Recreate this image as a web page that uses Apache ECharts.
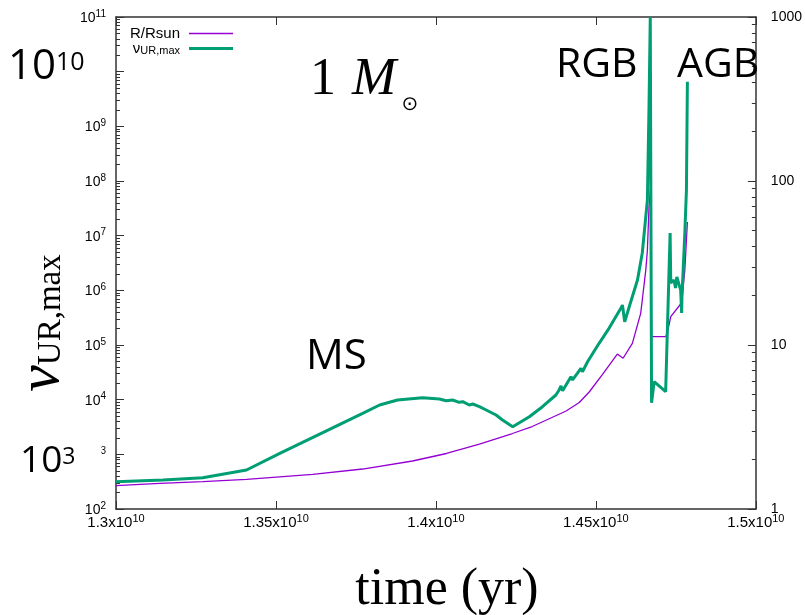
<!DOCTYPE html>
<html>
<head>
<meta charset="utf-8">
<script src="https://cdn.jsdelivr.net/npm/echarts@6/dist/echarts.min.js"></script>
<style>
html, body { margin: 0; padding: 0; background: #fff; }
#chart { width: 805px; height: 615px; }
</style>
</head>
<body>
<div id="chart"></div>
<script>
// Evolution of a 1 solar-mass star: nu_UR,max (left, log) and R/Rsun (right, log) against age.

// nu_UR,max track
const timeNu = [
  1.3000e10, 1.3147e10, 1.3271e10, 1.3408e10, 1.3512e10, 1.3771e10, 1.3824e10, 1.3880e10,
  1.3958e10, 1.4011e10, 1.4032e10, 1.4052e10, 1.4073e10, 1.4084e10, 1.4104e10, 1.4115e10,
  1.4136e10, 1.4157e10, 1.4188e10, 1.4208e10, 1.4240e10, 1.4292e10, 1.4333e10, 1.4375e10,
  1.4385e10, 1.4391e10, 1.4396e10, 1.4416e10, 1.4422e10, 1.4427e10, 1.4442e10, 1.4453e10,
  1.4458e10, 1.4474e10, 1.4479e10, 1.4510e10, 1.4541e10, 1.4578e10, 1.4583e10, 1.4590e10,
  1.4609e10, 1.4630e10, 1.4645e10, 1.4661e10, 1.4666e10, 1.4670e10, 1.4674e10, 1.4682e10,
  1.4718e10, 1.4732e10, 1.4734e10, 1.4744e10, 1.4749e10, 1.4753e10, 1.4765e10, 1.4768e10,
  1.4769e10, 1.4778e10, 1.4783e10, 1.4786e10
];
const nuMax = [
  316, 339, 374, 517, 1044, 5630, 7980, 9860,
  10860, 10280, 9570, 9860, 8950, 9180, 7980, 8330,
  7430, 6470, 5240, 4250, 3200, 4880, 7430, 12170,
  15030, 17780, 14590, 22900, 26330, 22900, 30360, 37500,
  32460, 49450, 46240, 107400, 201900, 469000, 538000, 266700,
  619000, 1.545e6, 4.82e6, 4.49e7, 2.25e9, 1e11, 8800, 21300,
  13990, 1.12e7, 1.36e6, 1.545e6, 1.10e6, 1.75e6, 1.01e6, 3.85e5,
  7.55e5, 1.12e7, 6.84e7, 6.55e9
];

// stellar radius track
const timeRadius = [
  1.3000e10, 1.3137e10, 1.3271e10, 1.3408e10, 1.3615e10, 1.3771e10, 1.3927e10, 1.4033e10,
  1.4136e10, 1.4239e10, 1.4301e10, 1.4407e10, 1.4448e10, 1.4479e10, 1.4519e10, 1.4567e10,
  1.4585e10, 1.4614e10, 1.4640e10, 1.4645e10, 1.4656e10, 1.4661e10, 1.4666e10, 1.4671e10,
  1.4674e10, 1.4718e10, 1.4723e10, 1.4734e10, 1.4765e10, 1.4770e10, 1.4778e10, 1.4786e10
];
const radius = [
  1.387, 1.431, 1.467, 1.517, 1.624, 1.753, 1.962, 2.180,
  2.490, 2.886, 3.184, 3.960, 4.461, 5.168, 6.56, 8.81,
  8.30, 10.24, 15.6, 18.8, 28.7, 37.9, 69.4, 91.9,
  11.24, 11.24, 11.78, 14.88, 17.78, 19.7, 28.7, 56.2
];

// axis ticks
const xTicks = [1.3e10, 1.35e10, 1.4e10, 1.45e10, 1.5e10];
const xTickMantissa = ['1.3', '1.35', '1.4', '1.45', '1.5'];
const leftTicks = [1e2, 1e3, 1e4, 1e5, 1e6, 1e7, 1e8, 1e9, 1e10, 1e11];
const leftTickExponents = ['2', '3', '4', '5', '6', '7', '8', '9', '10', '11'];
const rightTicks = [1, 10, 100, 1000];
const rightTickLabels = ['1', '10', '100', '1000'];

const seriesRadius = 'R/Rsun';
const seriesNu = 'ν_UR,max';

function minorLogTicks(lo, hi) {
  const out = [];
  for (let e = lo; e < hi; e++) {
    for (let m = 2; m <= 9; m++) out.push(m * Math.pow(10, e));
  }
  return out;
}

const AXIS_COLOR = '#333';
const SANS = '"Liberation Sans", Arial, sans-serif';
const SERIF = '"Liberation Serif", "Times New Roman", serif';
const CALLOUT = '"Open Sans", "Noto Sans", sans-serif';
const PURPLE = '#9400d3';
const GREEN = '#009e73';

function supRich(size, supSize) {
  return {
    b: { fontFamily: SANS, fontSize: size, lineHeight: size + 2, color: '#000', verticalAlign: 'bottom' },
    s: { fontFamily: SANS, fontSize: supSize, lineHeight: supSize, color: '#000', verticalAlign: 'top', padding: [0, 0, 8, 0] }
  };
}

const chart = echarts.init(document.getElementById('chart'), null, { renderer: 'canvas' });

const option = {
  animation: false,
  backgroundColor: '#fff',
  grid: { left: 116, right: 48, top: 17, bottom: 106, containLabel: false },
  legend: {
    left: 125, top: 21, orient: 'vertical', align: 'right',
    itemWidth: 44, itemHeight: 12, itemGap: -1, selectedMode: false,
    data: [
      { name: seriesRadius, icon: 'path://M0,0H44V1.4H0Z' },
      { name: seriesNu, icon: 'path://M0,0H44V3H0Z' }
    ],
    formatter: function (name) {
      return name === seriesNu ? '{nu|ν}{sub|UR,max}' : name;
    },
    textStyle: {
      fontFamily: SANS, fontSize: 15, color: '#000', padding: [0, 4, 0, 0],
      rich: {
        nu: { fontFamily: SANS, fontSize: 15, lineHeight: 15, verticalAlign: 'top', color: '#000' },
        sub: { fontFamily: SANS, fontSize: 11, lineHeight: 11, padding: [5, 0, 0, 0], verticalAlign: 'bottom', color: '#000' }
      }
    }
  },
  xAxis: [
    {
      type: 'value', position: 'bottom', min: 1.3e10, max: 1.5e10, interval: 5e8,
      axisLine: { show: true, onZero: false, lineStyle: { color: AXIS_COLOR, width: 1.5 } },
      axisTick: { show: true, inside: true, length: 8, customValues: xTicks, lineStyle: { color: AXIS_COLOR } },
      axisLabel: {
        margin: 4, customValues: xTicks,
        formatter: function (v) {
          const i = xTicks.findIndex(function (t) { return Math.abs(t - v) < 1e6; });
          return '{b|' + xTickMantissa[i] + 'x10}{s|10}';
        },
        rich: supRich(15, 11)
      },
      splitLine: { show: false }
    },
    {
      type: 'value', position: 'top', min: 1.3e10, max: 1.5e10, interval: 5e8,
      axisLine: { show: true, onZero: false, lineStyle: { color: AXIS_COLOR, width: 1.5 } },
      axisTick: { show: true, inside: true, length: 8, lineStyle: { color: AXIS_COLOR } },
      axisLabel: { show: false },
      splitLine: { show: false }
    }
  ],
  yAxis: [
    {
      type: 'log', logBase: 10, position: 'left', min: 1e2, max: 1e11,
      axisLine: { show: true, onZero: false, lineStyle: { color: AXIS_COLOR, width: 1.5 } },
      axisTick: { show: true, inside: true, length: 8, customValues: leftTicks, lineStyle: { color: AXIS_COLOR } },
      axisLabel: {
        margin: 10, customValues: leftTicks,
        formatter: function (v) {
          const i = leftTicks.findIndex(function (t) { return Math.abs(Math.log10(t) - Math.log10(v)) < 1e-6; });
          return '{b|10}{s|' + leftTickExponents[i] + '}';
        },
        rich: supRich(14, 10)
      },
      splitLine: { show: false }
    },
    {
      type: 'log', logBase: 10, position: 'right', min: 1, max: 1000,
      axisLine: { show: true, onZero: false, lineStyle: { color: AXIS_COLOR, width: 1.5 } },
      axisTick: { show: true, inside: true, length: 8, customValues: rightTicks, lineStyle: { color: AXIS_COLOR } },
      axisLabel: {
        margin: 15, customValues: rightTicks, fontFamily: SANS, fontSize: 14, color: '#000',
        formatter: function (v) {
          const i = rightTicks.findIndex(function (t) { return Math.abs(Math.log10(t) - Math.log10(v)) < 1e-6; });
          return rightTickLabels[i];
        }
      },
      splitLine: { show: false }
    },
    {
      // minor ticks, left
      type: 'log', logBase: 10, position: 'left', min: 1e2, max: 1e11,
      axisLine: { show: false },
      axisTick: { show: true, inside: true, length: 4, customValues: minorLogTicks(2, 11), lineStyle: { color: AXIS_COLOR } },
      axisLabel: { show: false },
      splitLine: { show: false }
    },
    {
      // minor ticks, right
      type: 'log', logBase: 10, position: 'right', min: 1, max: 1000,
      axisLine: { show: false },
      axisTick: { show: true, inside: true, length: 4, customValues: minorLogTicks(0, 3), lineStyle: { color: AXIS_COLOR } },
      axisLabel: { show: false },
      splitLine: { show: false }
    }
  ],
  series: [
    {
      name: seriesRadius, type: 'line', xAxisIndex: 0, yAxisIndex: 1,
      data: timeRadius.map(function (t, i) { return [t, radius[i]]; }),
      showSymbol: false, symbol: 'none',
      lineStyle: { color: PURPLE, width: 1.3 },
      itemStyle: { color: PURPLE }
    },
    {
      name: seriesNu, type: 'line', xAxisIndex: 0, yAxisIndex: 0,
      data: timeNu.map(function (t, i) { return [t, nuMax[i]]; }),
      showSymbol: false, symbol: 'none',
      lineStyle: { color: GREEN, width: 3 },
      itemStyle: { color: GREEN }
    }
  ],
  graphic: [
    {
      type: 'text', x: 8, y: 40, z: 100,
      style: {
        text: '{b|10}{s|10}', backgroundColor: '#fff', padding: [0, 22, 0, 0],
        rich: {
          b: { fontFamily: CALLOUT, fontSize: 42, lineHeight: 48, verticalAlign: 'bottom', fill: '#000' },
          s: { fontFamily: CALLOUT, fontSize: 25, lineHeight: 28, padding: [10, 0, 0, 0], verticalAlign: 'top', fill: '#000' }
        }
      }
    },
    {
      type: 'text', x: 20, y: 438, z: 100,
      style: {
        text: '{b|10}{s|3}', backgroundColor: '#fff', padding: [0, 26, 0, 0],
        rich: {
          b: { fontFamily: CALLOUT, fontSize: 37, lineHeight: 42, verticalAlign: 'bottom', fill: '#000' },
          s: { fontFamily: CALLOUT, fontSize: 23, lineHeight: 26, padding: [8, 0, 0, 0], verticalAlign: 'top', fill: '#000' }
        }
      }
    },
    {
      type: 'text', x: 310, y: 54, z: 100,
      style: {
        text: '{n|1 }{m|M}',
        rich: {
          n: { fontFamily: SERIF, fontSize: 52, lineHeight: 56, verticalAlign: 'top', fill: '#000' },
          m: { fontFamily: SERIF, fontStyle: 'italic', fontSize: 53, lineHeight: 56, padding: [0, 0, 0, 3], verticalAlign: 'top', fill: '#000' }
        }
      }
    },
    {
      type: 'text', x: 410, y: 105, z: 100,
      style: { text: '⊙', font: '20px "DejaVu Sans", sans-serif', fill: '#000', align: 'center', verticalAlign: 'middle' }
    },
    {
      type: 'text', x: 556, y: 45, z: 100,
      style: { text: 'RGB', font: '41px ' + CALLOUT, fill: '#000' }
    },
    {
      type: 'text', x: 677, y: 45, z: 100,
      style: { text: 'AGB', font: '41px ' + CALLOUT, fill: '#000' }
    },
    {
      type: 'text', x: 306, y: 336, z: 100,
      style: { text: 'MS', font: '42px ' + CALLOUT, fill: '#000' }
    },
    {
      type: 'text', x: 42, y: 323, rotation: Math.PI / 2, z: 100,
      style: {
        text: '{nu|ν}{sub|UR,max}', align: 'center', verticalAlign: 'middle',
        rich: {
          nu: { fontFamily: SERIF, fontStyle: 'italic', fontSize: 60, lineHeight: 60, verticalAlign: 'bottom', fill: '#000' },
          sub: { fontFamily: SERIF, fontSize: 33, lineHeight: 33, padding: [0, 0, 4, 0], verticalAlign: 'bottom', fill: '#000' }
        }
      }
    },
    {
      type: 'text', x: 447, y: 590, z: 100,
      style: { text: 'time (yr)', font: '52px ' + SERIF, fill: '#000', align: 'center', verticalAlign: 'middle' }
    }
  ]
};

chart.setOption(option);
</script>
</body>
</html>
